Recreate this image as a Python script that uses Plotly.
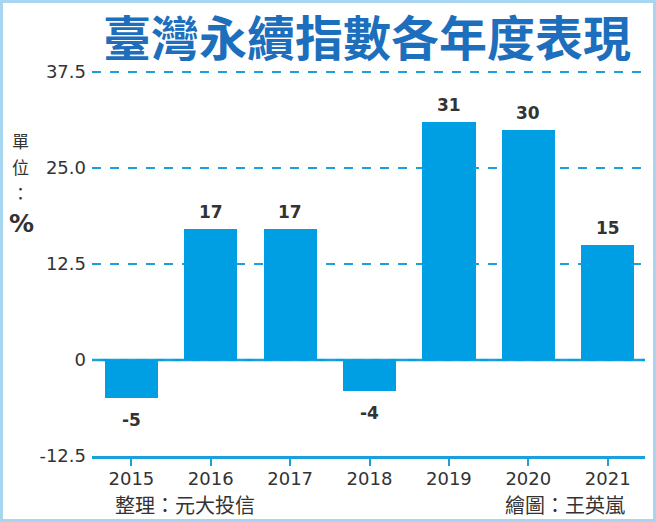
import plotly.graph_objects as go

# 資料
years = ["2015", "2016", "2017", "2018", "2019", "2020", "2021"]
returns = [-5, 17, 17, -4, 31, 30, 15]
value_labels = ["-5", "17", "17", "-4", "31", "30", "15"]
y_ticks = [-12.5, 0, 12.5, 25.0, 37.5]
y_tick_text = ["-12.5", "0", "12.5", "25.0", "37.5"]

W, H = 656, 522
M = dict(l=92, r=11, t=70, b=66)
BAR = "#009fe3"
LINE = "#1aa0dc"
TXT = "#333333"
NUM_FONT = "DejaVu Sans, sans-serif"
CJK = "Noto Sans CJK TC, sans-serif"

pw = W - M["l"] - M["r"]
ph = H - M["t"] - M["b"]


def px(x):
    return (x - M["l"]) / pw


def py(y):
    return 1 - (y - M["t"]) / ph


fig = go.Figure()
fig.add_trace(
    go.Bar(
        x=list(range(len(years))),
        y=returns,
        marker=dict(color=BAR, line=dict(width=0)),
        width=0.67,
        hoverinfo="skip",
    )
)

# 柱狀數值標籤
for i, (v, t) in enumerate(zip(returns, value_labels)):
    fig.add_annotation(
        x=i, y=v, text=f"<b>{t}</b>", showarrow=False,
        yanchor="bottom" if v >= 0 else "top",
        yshift=5 if v >= 0 else -10,
        font=dict(family="DejaVu Sans, sans-serif", size=17, color=TXT),
    )

# 零線
fig.add_shape(type="line", xref="paper", yref="y", x0=0, x1=1, y0=0, y1=0,
              line=dict(color=BAR, width=2.5), layer="below")

# 外框
fig.add_shape(
    type="rect", xref="paper", yref="paper",
    x0=px(1.5), x1=px(W - 1.5), y0=py(H - 1.5), y1=py(1.5),
    line=dict(color="#a6d6f0", width=3),
)

# 標題
fig.add_annotation(
    xref="paper", yref="paper", x=px(367), y=py(35),
    text="<b>臺灣永續指數各年度表現</b>", showarrow=False,
    xanchor="center", yanchor="middle",
    font=dict(family=CJK, size=48, color="#1d6fbd"),
)

# 單位（直排）
for ch, yy in [("單", 140), ("位", 166), ("：", 192)]:
    fig.add_annotation(
        xref="paper", yref="paper", x=px(20), y=py(yy),
        text=ch, showarrow=False, xanchor="center", yanchor="middle",
        font=dict(family=CJK, size=17, color=TXT),
    )
fig.add_annotation(
    xref="paper", yref="paper", x=px(21), y=py(223),
    text="<b>%</b>", showarrow=False, xanchor="center", yanchor="middle",
    font=dict(family="DejaVu Sans, sans-serif", size=25, color=TXT),
)

# 來源
fig.add_annotation(
    xref="paper", yref="paper", x=px(113), y=py(504),
    text="整理：元大投信", showarrow=False, xanchor="left", yanchor="middle",
    font=dict(family=CJK, size=20, color=TXT),
)
fig.add_annotation(
    xref="paper", yref="paper", x=px(627), y=py(504),
    text="繪圖：王英嵐", showarrow=False, xanchor="right", yanchor="middle",
    font=dict(family=CJK, size=20, color=TXT),
)

fig.update_xaxes(
    range=[-0.496, 6.47],
    tickmode="array", tickvals=list(range(len(years))), ticktext=years,
    ticks="outside", ticklen=7, tickwidth=2, tickcolor=LINE,
    showline=True, linecolor=LINE, linewidth=2.5,
    showgrid=False, zeroline=False, ticklabelstandoff=-2,
    tickfont=dict(family=NUM_FONT, size=18, color=TXT),
)
fig.update_yaxes(
    range=[-12.5, 37.5 + 2 / 7.68],
    tickmode="array", tickvals=y_ticks, ticktext=y_tick_text,
    showgrid=True, gridcolor=LINE, griddash="dash", gridwidth=1.5,
    zeroline=False, showline=False, ticks="", ticklabelstandoff=5,
    tickfont=dict(family=NUM_FONT, size=18, color=TXT),
)
fig.update_layout(
    width=W, height=H, margin=M,
    plot_bgcolor="white", paper_bgcolor="white",
    showlegend=False, bargap=0,
)

fig.write_html("out.html", config={"displayModeBar": False},
               post_script="document.body.style.margin='0';")
